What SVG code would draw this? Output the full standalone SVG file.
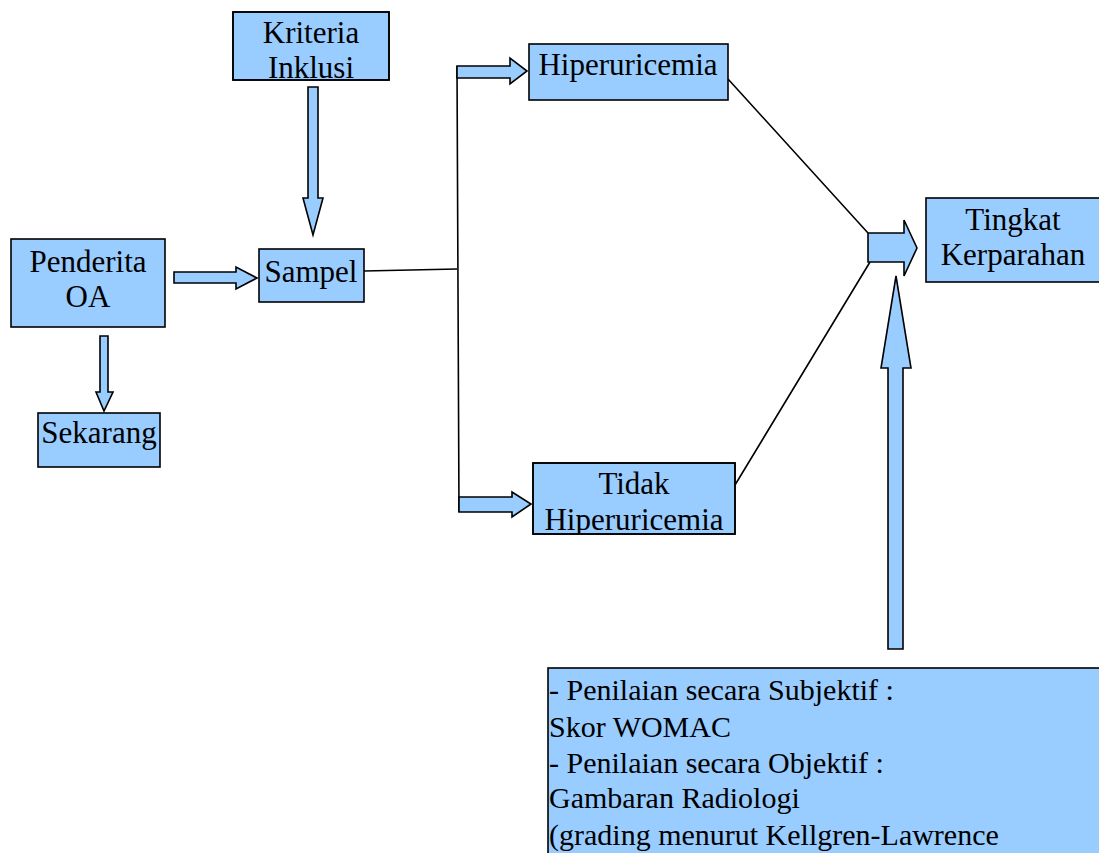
<svg xmlns="http://www.w3.org/2000/svg" width="1099" height="853" viewBox="0 0 1099 853">
<style>
.box{fill:#99CCFF;stroke:#000;stroke-width:1.6}
.arr{fill:#99CCFF;stroke:#000;stroke-width:1.6;stroke-linejoin:miter}
.ln{fill:none;stroke:#000;stroke-width:1.6}
</style>
<defs>
<clipPath id="cK"><rect x="233" y="12" width="156" height="68"/></clipPath>
<clipPath id="cT"><rect x="533" y="463" width="202" height="71"/></clipPath>
<clipPath id="cB"><rect x="548" y="668" width="560" height="200"/></clipPath>
</defs>
<rect width="1099" height="853" fill="#fff"/>
<g id="connectors">
<path class="ln" d="M364,271 L457,269 M457,66 L459,512 M728,79 L868,233 M870,262 L735,485"/>
<path class="arr" d="M174,272 L236,272 L236,267 L257,278 L236,289 L236,283 L174,283 Z"/>
<path class="arr" d="M100,336 L108,336 L108,392 L113,392 L104,411 L96,392 L100,392 Z"/>
<path class="arr" d="M308,87 L318,87 L318,198 L323,198 L313,235 L303,198 L308,198 Z"/>
<path class="arr" d="M457,66 L510,66 L510,58 L527,71 L510,84 L510,78 L457,78 Z"/>
<path class="arr" d="M459,497 L512,497 L512,492 L531,504 L512,517 L512,512 L459,512 Z"/>
<path class="arr" d="M868,233 L904,233 L904,220 L917,248 L904,276 L904,262 L868,262 Z"/>
<path class="arr" d="M888,649 L888,368 L881,368 L896,276 L911,368 L903,368 L903,649 Z"/>
</g>
<g font-family="Liberation Serif, 'Times New Roman', 'DejaVu Serif', serif" font-size="31" fill="#000">
<g id="kriteria">
<rect class="box" x="233" y="12" width="156" height="68"/>
<g clip-path="url(#cK)" text-anchor="middle">
<text x="311" y="43">Kriteria</text>
<text x="311" y="78">Inklusi</text>
</g>
<rect x="233" y="12" width="156" height="68" fill="none" stroke="#000" stroke-width="1.6"/>
</g>
<g id="penderita" text-anchor="middle">
<rect class="box" x="11" y="239" width="154" height="88"/>
<text x="88" y="272">Penderita</text>
<text x="88" y="307">OA</text>
</g>
<g id="sekarang" text-anchor="middle">
<rect class="box" x="38" y="413" width="122" height="54"/>
<text x="99" y="443">Sekarang</text>
</g>
<g id="sampel" text-anchor="middle">
<rect class="box" x="259" y="249" width="105" height="53"/>
<text x="311" y="282">Sampel</text>
</g>
<g id="hiperuricemia" text-anchor="middle">
<rect class="box" x="529" y="44" width="199" height="56"/>
<text x="628" y="75">Hiperuricemia</text>
</g>
<g id="tidak">
<rect class="box" x="533" y="463" width="202" height="71"/>
<g clip-path="url(#cT)" text-anchor="middle">
<text x="634" y="494">Tidak</text>
<text x="634" y="530">Hiperuricemia</text>
</g>
<rect x="533" y="463" width="202" height="71" fill="none" stroke="#000" stroke-width="1.6"/>
</g>
<g id="tingkat" text-anchor="middle">
<rect class="box" x="926" y="198" width="174" height="84"/>
<text x="1013" y="230">Tingkat</text>
<text x="1013" y="265">Kerparahan</text>
</g>
<g id="penilaian" font-size="30">
<rect class="box" x="548" y="668" width="560" height="200"/>
<g clip-path="url(#cB)">
<text x="549" y="700">- Penilaian secara Subjektif :</text>
<text x="549" y="737">Skor WOMAC</text>
<text x="549" y="773">- Penilaian secara Objektif :</text>
<text x="549" y="808">Gambaran Radiologi</text>
<text x="549" y="845">(grading menurut Kellgren-Lawrence</text>
</g>
</g>
</g>
</svg>
